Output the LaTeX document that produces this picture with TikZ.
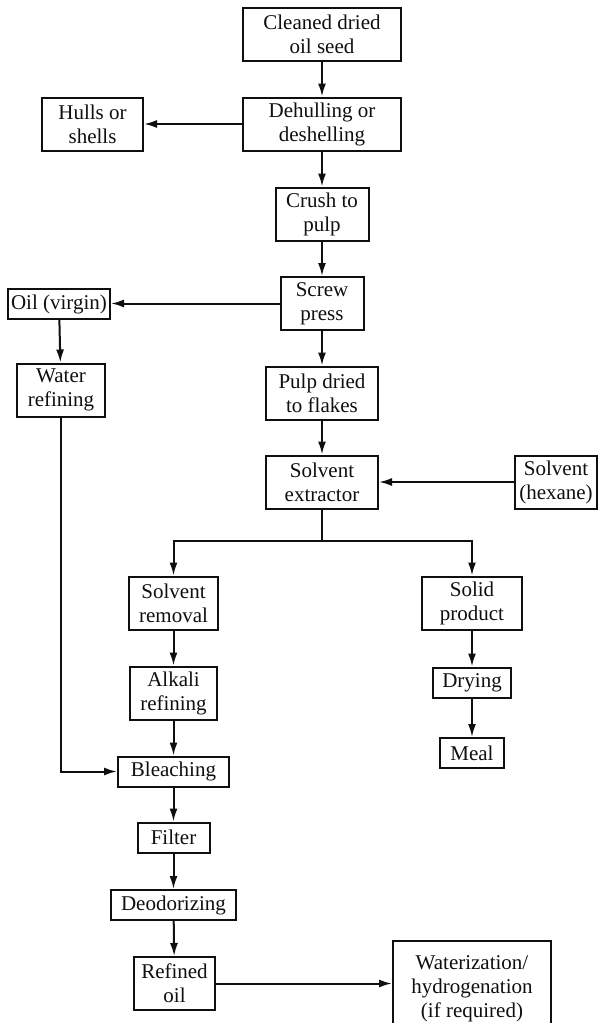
\documentclass[tikz,border=0pt]{standalone}
\usepackage{fontspec}
\setmainfont{Liberation Serif}
\definecolor{ink}{RGB}{15, 15, 15}
\definecolor{background}{RGB}{255, 255, 255}
\usetikzlibrary{arrows.meta, positioning, calc}

\tikzset{
  stage/.style={draw=ink, line width=2pt, align=center, inner sep=2pt,
    font=\fontsize{21}{24}\selectfont, text=ink, minimum height=53pt},
  single/.style={stage, minimum height=30pt},
  flow/.style={draw=ink, line width=2pt, -{Latex[length=13pt,width=8pt]}},
}

\begin{document}
\begin{tikzpicture}[x=1pt, y=-1pt]
  \useasboundingbox[fill=background] (0,0) rectangle (600,1023);

  % pressing line
  \node[stage, minimum width=158pt] (seed)    at (322,34)    {Cleaned dried\\oil seed};
  \node[stage, minimum width=158pt] (dehull)  at (322,124)   {Dehulling or\\deshelling};
  \node[stage, minimum width=101pt] (hulls)   at (92.5,124)  {Hulls or\\shells};
  \node[stage, minimum width=93pt]  (crush)   at (322,214)   {Crush to\\pulp};
  \node[stage, minimum width=83pt]  (screw)   at (322,303.5) {Screw\\press};
  \node[single, minimum width=102pt] (virgin) at (59,304)    {Oil (virgin)};
  \node[stage, minimum width=88pt]  (water)   at (61,390)    {Water\\refining};
  \node[stage, minimum width=112pt] (flakes)  at (322,393)   {Pulp dried\\to flakes};
  \node[stage, minimum width=112pt] (extract) at (322,482)   {Solvent\\extractor};
  \node[stage, minimum width=82pt]  (hexane)  at (556,482)   {Solvent\\(hexane)};

  % oil side
  \node[stage, minimum width=89pt]  (removal) at (173.5,603) {Solvent\\removal};
  \node[stage, minimum width=87pt]  (alkali)  at (173.5,693) {Alkali\\refining};
  \node[single, minimum width=111pt] (bleach) at (173.5,771.5) {Bleaching};
  \node[single, minimum width=72pt] (filter)  at (173.5,837.5) {Filter};
  \node[single, minimum width=125pt] (deodor) at (173.5,905) {Deodorizing};
  \node[stage, minimum width=81pt]  (refined) at (174.5,983.5) {Refined\\oil};
  \node[stage, minimum width=158pt, minimum height=96pt, anchor=north]
    (hydro) at (472,940) {Waterization/\\hydrogenation\\(if required)};

  % meal side
  \node[stage, minimum width=100pt] (solid)   at (472,603)   {Solid\\product};
  \node[single, minimum width=78pt] (drying)  at (472,682.5) {Drying};
  \node[single, minimum width=64pt] (meal)    at (472,753)   {Meal};

  \draw[flow] (seed) -- (dehull);
  \draw[flow] (dehull) -- (hulls);
  \draw[flow] (dehull) -- (crush);
  \draw[flow] (crush) -- (screw);
  \draw[flow] (screw.west) -- (virgin.east |- screw.west);
  \draw[flow] (virgin) -- (water);
  \draw[flow] (screw) -- (flakes);
  \draw[flow] (flakes) -- (extract);
  \draw[flow] (hexane) -- (extract);
  \draw[flow] (extract.south) -- ++(0,31) coordinate (split) -| (removal);
  \draw[flow] (split) -| (solid);
  \draw[flow] (removal) -- (alkali);
  \draw[flow] (alkali) -- (bleach);
  \draw[flow] (water.south) |- (bleach.west);
  \draw[flow] (bleach) -- (filter);
  \draw[flow] (filter) -- (deodor);
  \draw[flow] (deodor) -- (refined);
  \draw[flow] (refined.east) -- (hydro.west |- refined.east);
  \draw[flow] (solid) -- (drying);
  \draw[flow] (drying) -- (meal);
\end{tikzpicture}
\end{document}
